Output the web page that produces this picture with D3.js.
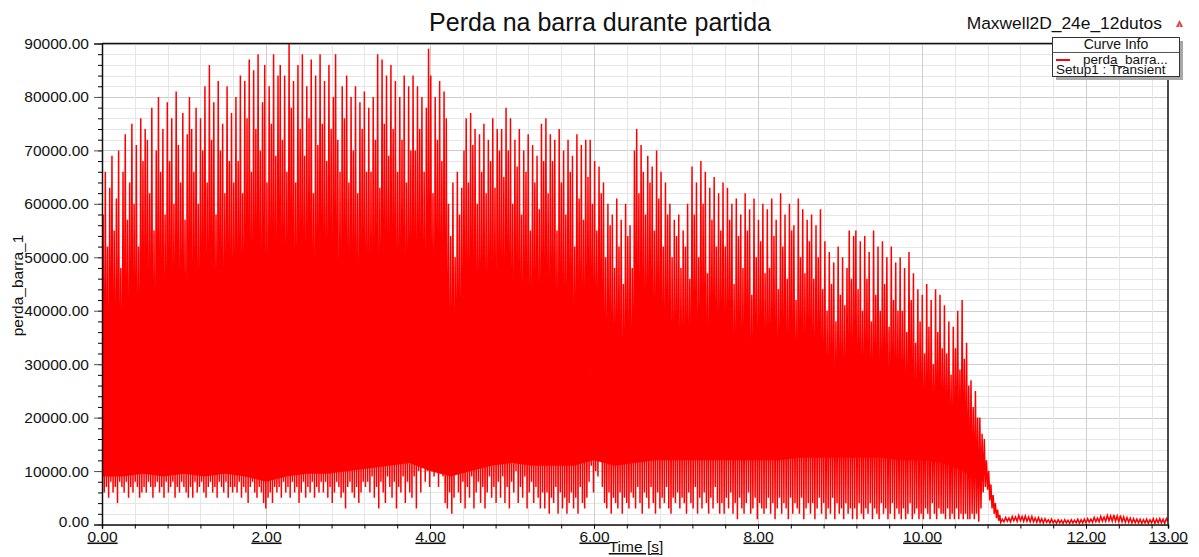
<!DOCTYPE html>
<html>
<head>
<meta charset="utf-8">
<script src="https://cdn.jsdelivr.net/npm/d3@7"></script>
<style>
  body { margin: 0; background: #fff; }
  svg text { font-family: "Liberation Sans", Arial, sans-serif; fill: #111; }
</style>
</head>
<body>
<svg id="chart" width="1199" height="557"></svg>
<script>
// ---- perda_barra_1 during start-up, values in units of 1000 W ----
// Oscillation cycles, one every CYCLE seconds from t = 0:
// the trace drops to dipLoss[i] at t = i*CYCLE and rises to peakLoss[i] half a cycle later.
const CYCLE = 0.027;

const peakLoss = [
  58,66,52,63,69,55,61,70,48,66,73,57,64,75,60,71,52,76,68,74,
  72,62,78,55,70,80,66,74,58,79,68,76,60,81,71,64,77,57,73,80,
  74,66,78,60,76,70,82,64,86,72,79,58,83,70,75,62,82,68,77,64,
  80,68,84,62,83,76,87,66,85,74,88,70,79,86,64,82,75,88,69,84,
  86,72,84,66,90,78,83,64,86,74,88,69,82,76,87,62,84,71,88,75,
  83,68,86,74,80,88,72,66,82,76,84,64,80,70,82,62,79,74,81,66,
  78,66,80,72,88,63,87,75,84,69,86,74,83,66,80,72,84,64,82,70,
  84,70,82,74,80,66,78,89,84,62,80,72,83,68,81,76,60,54,64,50,
  66,58,63,70,76,64,77,71,74,60,73,66,75,62,72,68,76,63,74,70,
  74,65,78,70,76,60,72,67,74,58,70,66,73,55,71,64,69,59,75,68,
  76,62,73,68,72,55,74,64,70,58,72,66,69,52,73,61,71,57,72,65,
  72,60,68,55,67,62,64,50,60,56,58,48,61,52,57,45,60,54,56,48,
  70,74,62,71,66,58,69,64,67,55,70,61,66,52,64,58,60,50,57,54,
  58,48,55,52,60,46,67,58,64,50,68,60,66,47,63,57,65,52,62,55,
  64,52,63,57,60,45,61,54,58,48,62,55,59,43,61,50,57,53,60,47,
  59,48,61,54,57,44,62,52,58,46,60,55,56,42,61,50,59,47,57,53,
  58,46,56,50,59,44,53,40,51,45,49,38,52,43,50,41,48,55,46,54,
  55,44,53,40,54,46,51,38,55,43,52,40,53,45,50,37,52,42,49,40,
  50,40,48,36,51,42,47,34,44,38,43,32,45,37,42,30,44,36,43,33,
  41,32,38,28,37,33,40,29,42,31,34,26,27,22,25,20,20,17,16,12,
  10,7.5,5.5,4,2.8,1.8
];

const dipLoss = [
  0,6,7,5,8,6,7,4,8,7,6,8,5,7,6,8,7,5,6,7,
  6,8,7,5,7,8,6,7,5,8,6,7,8,5,7,6,8,7,6,5,
  7,5,8,6,7,8,6,5,7,8,6,7,5,8,7,6,8,5,7,6,
  7,6,8,5,7,6,4,7,8,6,5,7,6,4,3,5,6,4,7,6,
  7,5,8,6,7,5,8,6,7,4,6,8,5,7,6,8,5,7,6,8,
  6,8,5,7,4,6,8,7,5,6,3,7,8,6,5,7,4,6,8,7,
  8,6,9,5,7,3,8,6,4,9,7,5,8,3,7,6,9,4,8,6,
  5,9,3,10,6,12,8,10,7,11,9,12,7,10,9,4,3,6,2,5,
  11,6,4,8,3,7,5,9,3,6,8,4,7,3,6,9,5,7,4,8,
  5,9,4,7,3,8,6,10,4,7,5,9,3,6,8,4,7,5,3,6,
  3,6,2,5,4,7,2,6,3,5,2,4,6,3,5,2,7,4,3,5,
  8,11,6,10,9,12,7,4,3,6,2,5,4,3,6,2,5,4,3,6,
  5,3,7,4,2,6,5,3,7,4,2,6,3,5,4,7,3,2,5,4,
  6,3,5,4,2,6,4,3,7,2,5,3,6,4,2,5,3,7,4,2,
  4,2,5,3,6,2,4,1,5,3,2,4,6,2,3,5,1,4,3,2,
  3,5,2,4,1,3,5,2,4,3,1,5,2,4,3,2,5,1,3,4,
  2,4,1,3,5,2,4,1,3,2,5,1,4,2,3,1,4,2,3,1,
  3,1,4,2,1,3,2,4,1,3,2,1,4,2,3,1,2,4,1,3,
  2,1,3,1,2,4,1,2,3,1,2,1,3,2,1,4,2,1,3,2,
  2,1,3,1,2,1,3,1,2,1,2,1,1,2,1,2,0.5,3,6,7,
  6.5,4.5,3,2,1.2,0.7
];

// Dense part of the trace (every pixel column filled), sampled every CORE_STEP s from t = 0
const CORE_STEP = 0.25;
const coreUpper = [39,39,40,38,39,38,37,35,34,37,36,37,36,37,39,38,36,32,32,31,30,29,29,28,28,27,27,26,26,25,25,24,24,23,23,22,22,21,21,20,19,18,15,9];
const coreLower = [9,9,9.5,9,9.5,9,9.5,9,8,9,9.5,9.5,10,10.5,11,11.5,10,9,10,11,11.5,11,11,11,12,11,11.5,12,12,12,12,12,12,12,12.5,12.5,12.5,12.5,12.5,12,12,11.5,10,8];

// Residual ripple after the machine reaches speed
const TAIL_START = 10.96, TAIL_STEP = 0.04;
const tailHigh = [1.0,1.3,1.2,1.5,1.4,1.7,1.5,1.6,1.4,1.5,1.2,1.3,1.1,1.1,0.9,1.0,0.8,0.9,0.8,0.9,0.8,0.9,0.8,1.0,0.9,1.0,1.1,1.0,1.3,1.2,1.5,1.4,1.7,1.6,1.8,1.6,1.7,1.4,1.3,1.2,1.1,1.0,1.0,0.9,1.0,0.9,1.1,1.0,1.1,1.0,1.1];
const tailLow  = [0.4,0.5,0.6,0.5,0.7,0.6,0.7,0.6,0.6,0.5,0.5,0.4,0.4,0.3,0.4,0.3,0.3,0.2,0.3,0.2,0.3,0.2,0.3,0.3,0.2,0.3,0.3,0.4,0.4,0.5,0.5,0.6,0.6,0.7,0.6,0.6,0.5,0.5,0.4,0.4,0.3,0.3,0.3,0.2,0.3,0.2,0.3,0.2,0.3,0.3,0.2];
const TAIL_END = 0.6;

// Axis ticks
const yLabelTicks = [0,10,20,30,40,50,60,70,80,90];
const xLabelTicks = [0,2,4,6,8,10,12,13];
const Y_MINOR = 2, X_MINOR = 0.4;

// ---- layout ----
const svg = d3.select('#chart');
const X0 = 102, X1 = 1168, Y0 = 524.5, Y1 = 43.5;
const x = d3.scaleLinear().domain([0, 13]).range([X0, X1]);
const y = d3.scaleLinear().domain([0, 90]).range([Y0, Y1]);
const RED = '#ff0000';

// grid
const grid = svg.append('g').attr('shape-rendering', 'crispEdges');
const yMinorVals = d3.range(0, 90.001, Y_MINOR);
const xMinorVals = d3.range(0, 13.0001, X_MINOR).map(v => +v.toFixed(2));
const isMajorX = d => Math.abs(d / 2 - Math.round(d / 2)) < 1e-6;
grid.selectAll('.hg').data(yMinorVals).join('line')
  .attr('x1', X0).attr('x2', X1)
  .attr('y1', d => Math.round(y(d)) + 0.5).attr('y2', d => Math.round(y(d)) + 0.5)
  .attr('stroke', d => d % 10 === 0 ? '#cdcdcd' : '#e6e6e6');
grid.selectAll('.vg').data(xMinorVals).join('line')
  .attr('y1', Y1).attr('y2', Y0)
  .attr('x1', d => Math.round(x(d)) + 0.5).attr('x2', d => Math.round(x(d)) + 0.5)
  .attr('stroke', d => isMajorX(d) ? '#cdcdcd' : '#e6e6e6');

// clip to the plot area
svg.append('clipPath').attr('id', 'plotClip')
  .append('rect').attr('x', X0).attr('y', Y1).attr('width', X1 - X0).attr('height', Y0 - Y1);
const plot = svg.append('g').attr('clip-path', 'url(#plotClip)');

// dense band
const core = coreUpper.map((hi, i) => ({ t: i * CORE_STEP, hi, lo: coreLower[i] }));
plot.append('path').datum(core)
  .attr('fill', RED)
  .attr('d', d3.area().x(d => x(d.t)).y0(d => y(d.lo)).y1(d => y(d.hi)));

// full trace
const trace = [];
peakLoss.forEach((p, i) => {
  trace.push([i * CYCLE, dipLoss[i]]);
  trace.push([i * CYCLE + CYCLE / 2, p]);
});
tailHigh.forEach((h, i) => {
  const t = TAIL_START + i * TAIL_STEP;
  trace.push([t, tailLow[i]]);
  trace.push([t + TAIL_STEP / 2, h]);
});
trace.push([13, TAIL_END]);

plot.append('path').datum(trace)
  .attr('fill', 'none')
  .attr('stroke', RED)
  .attr('stroke-width', 1.5)
  .attr('stroke-linejoin', 'miter')
  .attr('d', d3.line().x(d => x(d[0])).y(d => y(d[1])));

// ---- axes ----
const fmt = d3.format('.2f');
const yMinorAxis = svg.append('g').attr('transform', `translate(${X0},0)`)
  .call(d3.axisLeft(y).tickValues(yMinorVals).tickSize(4).tickFormat(''));
yMinorAxis.select('.domain').remove();
const yAxis = svg.append('g').attr('transform', `translate(${X0},0)`)
  .call(d3.axisLeft(y).tickValues(yLabelTicks).tickSize(8).tickPadding(5)
    .tickFormat(d => fmt(d * 1000)));
yAxis.selectAll('.tick line').attr('stroke', '#555');
yAxis.selectAll('text').style('font-size', '15.5px')
  .attr('dy', d => d === 0 ? '0.12em' : '0.32em');
yAxis.select('.domain').attr('stroke', '#111').attr('stroke-width', 1.5);

const xMinorAxis = svg.append('g').attr('transform', `translate(0,${Y0})`)
  .call(d3.axisBottom(x).tickValues(xMinorVals).tickSize(4).tickFormat(''));
xMinorAxis.select('.domain').remove();
const xAxis = svg.append('g').attr('transform', `translate(0,${Y0})`)
  .call(d3.axisBottom(x).tickValues(xLabelTicks).tickSize(4).tickPadding(2).tickFormat(fmt));
xAxis.selectAll('text').style('font-size', '15.5px').style('text-decoration', 'underline');
xAxis.select('.domain').attr('stroke', '#111').attr('stroke-width', 1.5);

// frame top and right
svg.append('path')
  .attr('d', `M${X0},${Y1}H${X1}V${Y0}`)
  .attr('fill', 'none').attr('stroke', '#111').attr('stroke-width', 1.5);

// ---- titles ----
svg.append('text').attr('x', 600).attr('y', 31).attr('text-anchor', 'middle')
  .style('font-size', '25px').text('Perda na barra durante partida');
svg.append('text').attr('x', 1162).attr('y', 29).attr('text-anchor', 'end')
  .style('font-size', '17.4px').text('Maxwell2D_24e_12dutos');
svg.append('path').attr('d', 'M1176,27L1183,27L1179.5,20Z').attr('fill', '#e04040');
svg.append('path').attr('d', 'M1178.5,27L1180.5,27L1179.5,23Z').attr('fill', '#f4a0a0');

svg.append('text')
  .attr('transform', 'translate(23,285.5) rotate(-90)')
  .attr('text-anchor', 'middle')
  .style('font-size', '15.5px').text('perda_barra_1');
svg.append('text').attr('x', 636).attr('y', 552).attr('text-anchor', 'middle')
  .style('font-size', '15.5px').style('text-decoration', 'underline').text('Time [s]');

// ---- legend ----
const lg = svg.append('g');
lg.append('rect').attr('x', 1056).attr('y', 41).attr('width', 127).attr('height', 39)
  .attr('fill', '#a8a8a8');
lg.append('rect').attr('x', 1052.5).attr('y', 37.5).attr('width', 127).attr('height', 39)
  .attr('fill', '#fff').attr('stroke', '#333');
lg.append('line').attr('x1', 1052.5).attr('x2', 1179.5).attr('y1', 52.5).attr('y2', 52.5)
  .attr('stroke', '#555');
lg.append('text').attr('x', 1116).attr('y', 49).attr('text-anchor', 'middle')
  .style('font-size', '14px').text('Curve Info');
lg.append('line').attr('x1', 1056).attr('x2', 1070).attr('y1', 60).attr('y2', 60)
  .attr('stroke', RED).attr('stroke-width', 2);
lg.append('text').attr('x', 1083).attr('y', 63.5)
  .style('font-size', '13.5px').text('perda_barra...');
lg.append('text').attr('x', 1056).attr('y', 73.5)
  .style('font-size', '13.5px').text('Setup1 : Transient');
</script>
</body>
</html>
